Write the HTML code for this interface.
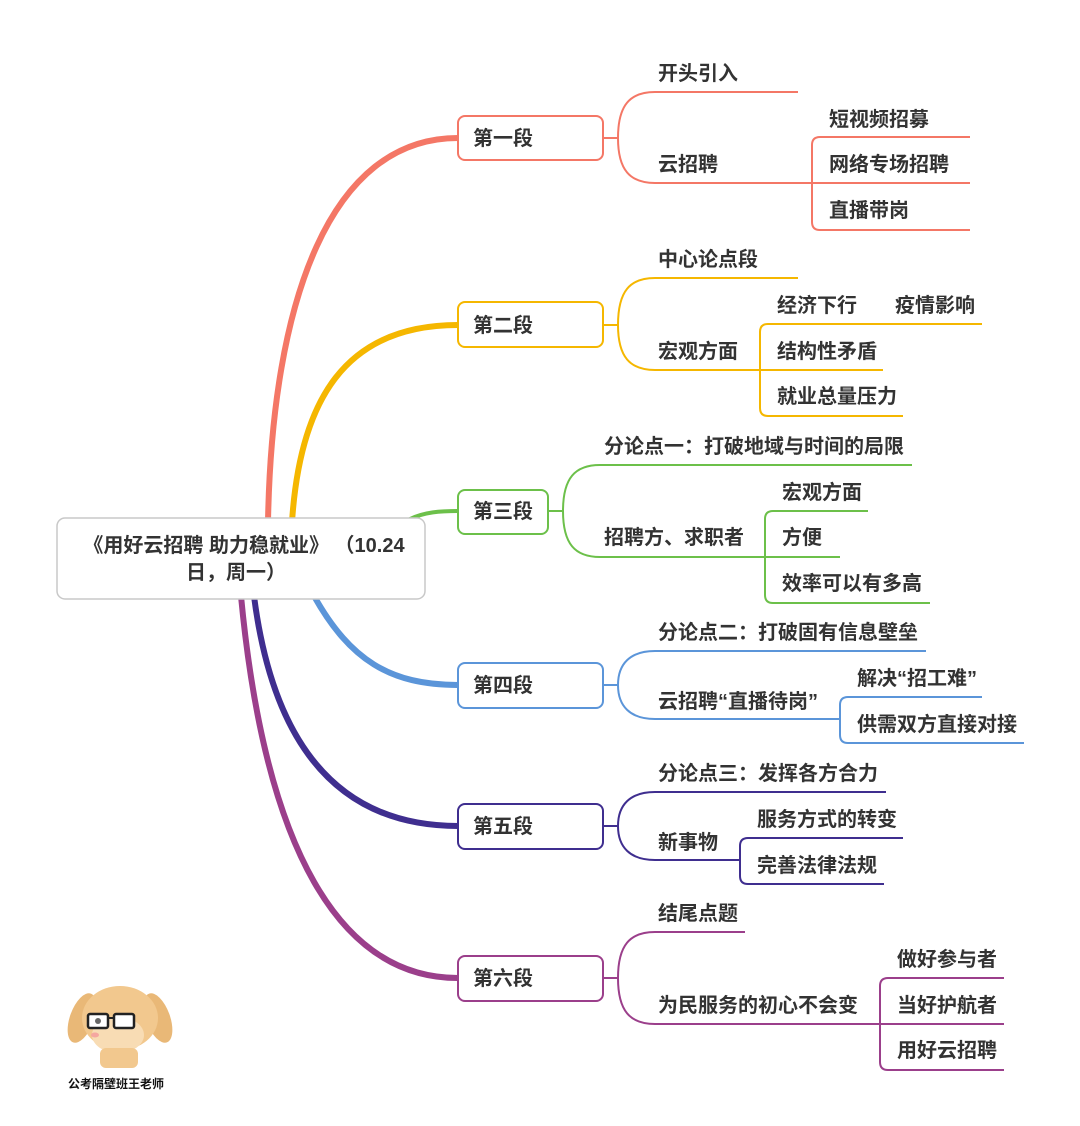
<!DOCTYPE html>
<html><head><meta charset="utf-8"><style>
html,body{margin:0;padding:0;background:#fff;}
svg{display:block;}
text{font-family:"Liberation Sans","Noto Sans CJK SC",sans-serif;font-weight:bold;fill:#333;font-size:20px;}
</style></head><body>
<svg width="1080" height="1126" viewBox="0 0 1080 1126" xmlns="http://www.w3.org/2000/svg">
<g fill="none" stroke-linecap="round">
<path d="M268 522 C 272 300, 330 138, 458 138" stroke="#f47766" stroke-width="6"/>
<path d="M292 522 C 300 400, 345 325, 458 325" stroke="#f5b700" stroke-width="6"/>
<path d="M410 519 C 425 512, 440 511, 458 511" stroke="#6cc04a" stroke-width="4"/>
<path d="M314 596 C 350 660, 390 685, 458 685" stroke="#5b95d9" stroke-width="6"/>
<path d="M254 596 C 275 760, 350 826, 458 826" stroke="#3f2e8f" stroke-width="6"/>
<path d="M241 596 C 265 850, 340 978, 458 978" stroke="#9b3f8b" stroke-width="6"/>
</g>
<g fill="none" stroke-width="2">
<g stroke="#f47766">
<rect x="458" y="116" width="145" height="44" rx="7" fill="#fff"/>
<path d="M603 138 H618 C618 105 630 92 655 92 H798"/>
<path d="M618 138 C618 170 630 183 655 183 H970"/>
<path d="M970 137 H820 Q812 137 812 145 V222 Q812 230 820 230 H970"/>
</g>
<g stroke="#f5b700">
<rect x="458" y="302" width="145" height="45" rx="7" fill="#fff"/>
<path d="M603 325 H618 C618 291 630 278 655 278 H798"/>
<path d="M618 325 C618 357 630 370 655 370 H883"/>
<path d="M982 324 H768 Q760 324 760 332 V408 Q760 416 768 416 H903"/>
</g>
<g stroke="#6cc04a">
<rect x="458" y="490" width="90" height="44" rx="7" fill="#fff"/>
<path d="M548 511 H563 C563 478 575 465 600 465 H912"/>
<path d="M563 511 C563 544 575 557 600 557 H840"/>
<path d="M868 511 H773 Q765 511 765 519 V595 Q765 603 773 603 H930"/>
</g>
<g stroke="#5b95d9">
<rect x="458" y="663" width="145" height="45" rx="7" fill="#fff"/>
<path d="M603 685 H618 C618 664 630 651 655 651 H926"/>
<path d="M618 685 C618 706 630 719 655 719 H840"/>
<path d="M982 697 H848 Q840 697 840 705 V735 Q840 743 848 743 H1024"/>
</g>
<g stroke="#3f2e8f">
<rect x="458" y="804" width="145" height="45" rx="7" fill="#fff"/>
<path d="M603 826 H618 C618 805 630 792 655 792 H886"/>
<path d="M618 826 C618 847 630 860 655 860 H740"/>
<path d="M903 838 H748 Q740 838 740 846 V876 Q740 884 748 884 H884"/>
</g>
<g stroke="#9b3f8b">
<rect x="458" y="956" width="145" height="45" rx="7" fill="#fff"/>
<path d="M603 978 H618 C618 945 630 932 655 932 H745"/>
<path d="M618 978 C618 1011 630 1024 655 1024 H1004"/>
<path d="M1004 978 H888 Q880 978 880 986 V1062 Q880 1070 888 1070 H1004"/>
</g>
<rect x="57" y="518" width="368" height="81" rx="8" fill="#fff" stroke="#c8c8c8" stroke-width="1.5"/>
</g>
<text x="244" y="552" text-anchor="middle">《用好云招聘 助力稳就业》 （10.24</text>
<text x="236" y="579" text-anchor="middle">日，周一）</text>

<text x="473" y="145">第一段</text>
<text x="473" y="332">第二段</text>
<text x="473" y="518">第三段</text>
<text x="473" y="692">第四段</text>
<text x="473" y="833">第五段</text>
<text x="473" y="985">第六段</text>

<text x="658" y="80">开头引入</text>
<text x="658" y="171">云招聘</text>
<text x="829" y="126">短视频招募</text>
<text x="829" y="171">网络专场招聘</text>
<text x="829" y="217">直播带岗</text>

<text x="658" y="266">中心论点段</text>
<text x="658" y="358">宏观方面</text>
<text x="777" y="312">经济下行</text>
<text x="895" y="312">疫情影响</text>
<text x="777" y="358">结构性矛盾</text>
<text x="777" y="403">就业总量压力</text>

<text x="604" y="453">分论点一：打破地域与时间的局限</text>
<text x="604" y="544">招聘方、求职者</text>
<text x="782" y="499">宏观方面</text>
<text x="782" y="544">方便</text>
<text x="782" y="590">效率可以有多高</text>

<text x="658" y="639">分论点二：打破固有信息壁垒</text>
<text x="658" y="708">云招聘“直播待岗”</text>
<text x="857" y="685">解决“招工难”</text>
<text x="857" y="731">供需双方直接对接</text>

<text x="658" y="780">分论点三：发挥各方合力</text>
<text x="658" y="849">新事物</text>
<text x="757" y="826">服务方式的转变</text>
<text x="757" y="872">完善法律法规</text>

<text x="658" y="920">结尾点题</text>
<text x="658" y="1012">为民服务的初心不会变</text>
<text x="897" y="966">做好参与者</text>
<text x="897" y="1012">当好护航者</text>
<text x="897" y="1057">用好云招聘</text>

<g>
<ellipse cx="82" cy="1018" rx="12" ry="26" fill="#e9b877" transform="rotate(20 82 1018)"/>
<ellipse cx="158" cy="1018" rx="12" ry="26" fill="#e9b877" transform="rotate(-20 158 1018)"/>
<ellipse cx="120" cy="1018" rx="38" ry="32" fill="#f2c88e"/>
<ellipse cx="118" cy="1035" rx="26" ry="18" fill="#f8dcb4"/>
<rect x="100" y="1048" width="38" height="20" rx="6" fill="#f2c88e"/>
<rect x="88" y="1014" width="20" height="14" rx="2" fill="#fff" stroke="#222" stroke-width="2.5"/>
<rect x="114" y="1014" width="20" height="14" rx="2" fill="#fff" stroke="#222" stroke-width="2.5"/>
<line x1="108" y1="1018" x2="114" y2="1018" stroke="#222" stroke-width="2"/>
<circle cx="98" cy="1021" r="3" fill="#666"/>
<ellipse cx="95" cy="1035" rx="4" ry="2.5" fill="#f5a7a0"/>
</g>
<text x="68" y="1088" style="font-size:12px;fill:#111">公考隔壁班王老师</text>
</svg>
</body></html>
